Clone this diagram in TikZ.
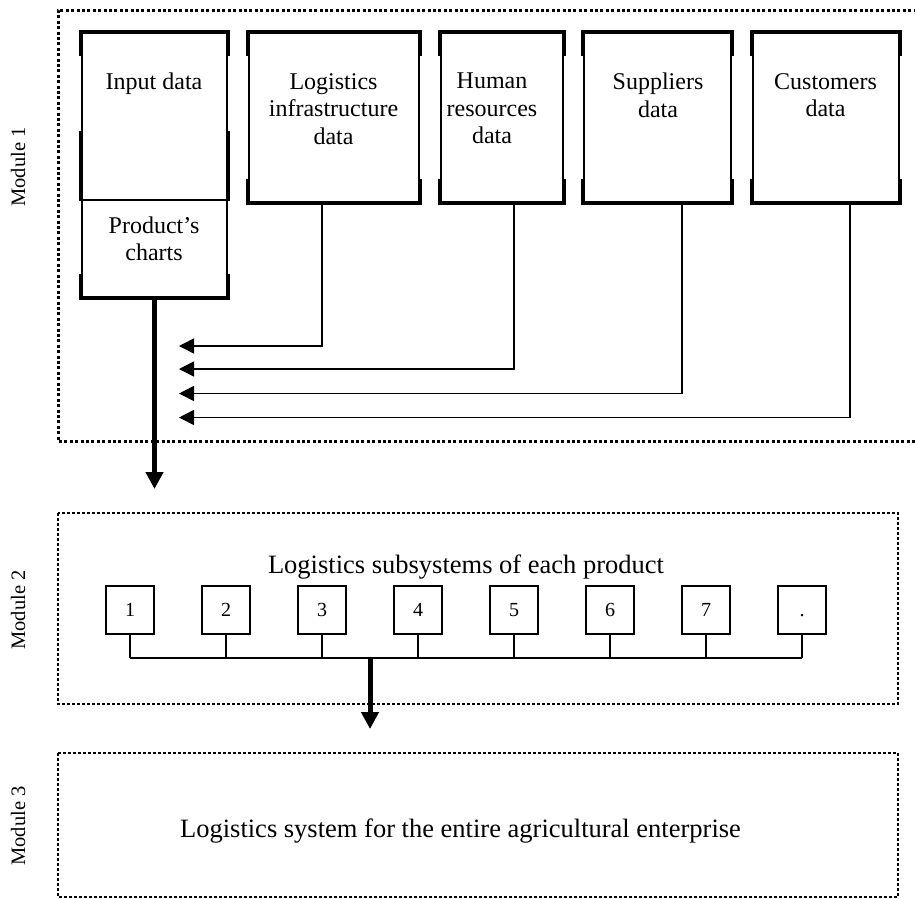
\documentclass[tikz,border=0pt]{standalone}
\usepackage{fontspec}
\setmainfont{Liberation Serif}
\usetikzlibrary{arrows.meta}

\begin{document}
\begin{tikzpicture}[x=1pt,y=-1pt,
  databox/.style={draw,line width=1.6pt,inner sep=0pt},
  rim/.style={line width=3.6pt,line join=miter},
  boxtext/.style={font=\fontsize{24}{27.5}\selectfont,align=center,anchor=north,inner sep=0pt},
  modframe/.style={line width=2pt,dash pattern=on 2.6pt off 2.4pt},
  modframeone/.style={line width=3pt,dash pattern=on 3pt off 2.4pt},
  modlabel/.style={font=\fontsize{20.5}{24}\selectfont,rotate=90,inner sep=0pt},
  modtext/.style={font=\fontsize{26.5}{30}\selectfont,anchor=base,inner sep=0pt},
  subbox/.style={draw,line width=1.6pt,minimum size=48pt,inner sep=0pt,
                 text height=13.5pt,text depth=0pt,font=\fontsize{20}{24}\selectfont},
  wire/.style={line width=1.6pt},
  feed/.style={line width=1.6pt,-{Triangle[length=15pt,width=15pt]}},
  flow/.style={line width=5pt,-{Triangle[length=17pt,width=17pt]}}]
  \useasboundingbox (0,0) rectangle (915,898);

  %% Module frames
  \draw[modframeone] (922,10) -| (58,441) -- (922,441);
  \draw[modframe] (58,513) rectangle (898,704);
  \draw[modframe] (58,753) rectangle (898,897);

  \node[modlabel] (lab1) at (18,167) {Module 1};
  \node[modlabel] (lab2) at (18,610) {Module 2};
  \node[modlabel] (lab3) at (18,826) {Module 3};

  %% Module 1: data boxes
  \node[databox,minimum width=145pt,minimum height=167pt] (input)  at (154.5,116.5) {};
  \node[databox,minimum width=145pt,minimum height=97pt]  (charts) at (154.5,248.5) {};
  \node[databox,minimum width=170pt,minimum height=169pt] (infra)  at (334,117.5) {};
  \node[databox,minimum width=122pt,minimum height=169pt] (human)  at (502,117.5) {};
  \node[databox,minimum width=147pt,minimum height=169pt] (supp)   at (657.5,117.5) {};
  \node[databox,minimum width=146pt,minimum height=169pt] (cust)   at (826,117.5) {};

  \foreach \b in {input,infra,human,supp,cust}
    \draw[rim] (\b.north west) ++(0,24) -- (\b.north west) -- (\b.north east) -- ++(0,24);
  \foreach \b in {infra,human,supp,cust,charts}
    \draw[rim] (\b.south west) ++(0,-24) -- (\b.south west) -- (\b.south east) -- ++(0,-24);
  \draw[rim] (input.south west) -- ++(0,-70);
  \draw[rim] (input.south east) -- ++(0,-70);

  \node[boxtext] (input-t)  at (154,73)    {Input data};
  \node[boxtext] (charts-t) at (154,216.6) {Product’s\\charts};
  \node[boxtext] (infra-t)  at (333.5,73)  {Logistics\\infrastructure\\data};
  \node[boxtext] (human-t)  at (492,73)    {Human\\resources\\data};
  \node[boxtext] (supp-t)   at (658,73)    {Suppliers\\data};
  \node[boxtext] (cust-t)   at (825.5,73)  {Customers\\data};

  %% feeds into the input column
  \coordinate (tipA) at (179,346);
  \coordinate (tipB) at (179,369);
  \coordinate (tipC) at (179,393.5);
  \coordinate (tipD) at (179,417.5);
  \draw[feed] ([xshift=-12pt]infra.south) |- (tipA);
  \draw[feed] ([xshift=12pt]human.south) |- (tipB);
  \draw[feed] ([xshift=24.5pt]supp.south) |- (tipC);
  \draw[feed] ([xshift=24pt]cust.south) |- (tipD);

  \coordinate (m2in) at (154.5,489);
  \draw[flow] (charts.south) -- (m2in);

  %% Module 2: subsystems
  \node[modtext] (subs-t) at (466,573) {Logistics subsystems of each product};
  \foreach \i/\t in {1/1,2/2,3/3,4/4,5/5,6/6,7/7,8/.}
    \node[subbox] (sub\i) at ({130+96*(\i-1)},610) {\t};
  \coordinate (bus) at (130,658);
  \foreach \i in {1,...,8}
    \draw[wire] (sub\i.south) -- (sub\i.south |- bus);
  \draw[wire] (sub1.south |- bus) -- (sub8.south |- bus);

  \coordinate (busout) at (370,658);
  \coordinate (m3in) at (370,729);
  \draw[flow] (busout) -- (m3in);

  %% Module 3
  \node[modtext] (sys-t) at (460.5,837) {Logistics system for the entire agricultural enterprise};
\end{tikzpicture}
\end{document}
